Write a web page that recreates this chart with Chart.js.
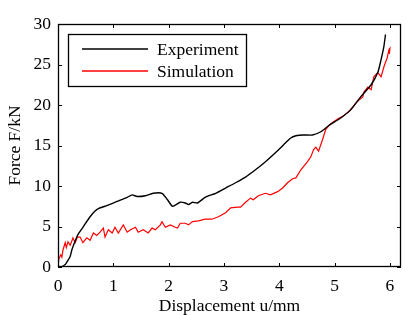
<!DOCTYPE html>
<html>
<head>
  <meta charset="utf-8">
  <title>Force vs displacement</title>
  <script src="https://cdn.jsdelivr.net/npm/chart.js@4.4.0/dist/chart.umd.min.js"></script>
  <style>
    body { margin: 0; background: #fff; }
  </style>
</head>
<body>
  <canvas id="myChart" width="415" height="315"></canvas>

  <script>
    // data
    const xTicks = [0, 1, 2, 3, 4, 5, 6];
    const yTicks = [0, 5, 10, 15, 20, 25, 30];

    const expLabel = 'Experiment';
    const expX = [0, 0.07, 0.13, 0.16, 0.22, 0.25, 0.31, 0.36, 0.45, 0.58, 0.67, 0.73, 0.89, 1.07, 1.25, 1.34, 1.43, 1.58, 1.72, 1.88, 1.98, 2.07, 2.21, 2.3, 2.36, 2.43, 2.52, 2.66, 2.85, 3.03, 3.21, 3.39, 3.57, 3.75, 3.93, 4.11, 4.2, 4.3, 4.44, 4.6, 4.75, 4.9, 5.11, 5.29, 5.47, 5.66, 5.78, 5.84, 5.89, 5.92];
    const expY = [0, 0.05, 0.3, 0.6, 1.3, 2.1, 3.2, 4.0, 4.9, 6.2, 6.9, 7.2, 7.6, 8.1, 8.6, 8.9, 8.7, 8.8, 9.1, 9.1, 8.3, 7.5, 8.0, 7.9, 7.7, 8.0, 7.9, 8.6, 9.1, 9.75, 10.4, 11.1, 12.0, 13.0, 14.1, 15.3, 15.9, 16.2, 16.3, 16.3, 16.7, 17.5, 18.4, 19.4, 21.0, 22.5, 24.0, 25.6, 27.2, 28.7];

    const simLabel = 'Simulation';
    const simX = [0, 0.02, 0.05, 0.07, 0.09, 0.13, 0.15, 0.18, 0.22, 0.25, 0.27, 0.31, 0.35, 0.4, 0.45, 0.52, 0.58, 0.64, 0.7, 0.76, 0.82, 0.85, 0.91, 0.98, 1.03, 1.09, 1.18, 1.25, 1.31, 1.4, 1.45, 1.54, 1.63, 1.7, 1.76, 1.85, 1.88, 1.94, 2.03, 2.12, 2.16, 2.21, 2.3, 2.36, 2.43, 2.54, 2.66, 2.78, 2.9, 3.03, 3.12, 3.24, 3.3, 3.39, 3.48, 3.53, 3.62, 3.75, 3.84, 3.97, 4.06, 4.15, 4.24, 4.3, 4.39, 4.51, 4.57, 4.62, 4.66, 4.71, 4.79, 4.84, 4.93, 5.06, 5.15, 5.24, 5.33, 5.38, 5.44, 5.51, 5.53, 5.6, 5.66, 5.71, 5.78, 5.84, 5.9, 5.95, 5.98, 6.0, 5.99];
    const simY = [0.3, 1.1, 1.5, 1.2, 2.1, 3.0, 2.4, 3.1, 2.7, 3.2, 3.6, 3.0, 3.7, 3.7, 3.0, 3.6, 3.3, 4.2, 3.9, 4.3, 4.8, 3.7, 4.6, 4.2, 4.9, 4.2, 5.2, 4.3, 4.6, 4.9, 4.3, 4.6, 4.2, 4.8, 4.6, 5.2, 5.6, 4.9, 5.2, 4.9, 4.8, 5.4, 5.4, 5.2, 5.6, 5.7, 5.9, 5.9, 6.2, 6.7, 7.3, 7.4, 7.4, 8.0, 8.5, 8.3, 8.8, 9.1, 8.9, 9.3, 9.75, 10.4, 10.9, 11.0, 12.0, 13.0, 13.6, 14.5, 14.8, 14.3, 15.9, 17.0, 17.7, 18.3, 18.6, 19.1, 19.75, 20.2, 20.6, 21.0, 21.6, 22.2, 21.9, 23.5, 24.0, 23.5, 24.9, 25.8, 26.8, 27.0, 26.3];

    const serif = '"Liberation Serif", "DejaVu Serif", serif';
    const fontSize = 17.5;

    function toPoints(xs, ys) {
      return xs.map((x, i) => ({ x: x, y: ys[i] }));
    }

    // frame with inward ticks on all four sides, plus a boxed legend
    const framePlugin = {
      id: 'frame',
      afterDraw(chart) {
        const ctx = chart.ctx;
        const a = chart.chartArea;
        const xs = chart.scales.x;
        const ys = chart.scales.y;
        const len = 4;
        ctx.save();
        ctx.strokeStyle = '#000';
        ctx.lineWidth = 1.3;
        ctx.strokeRect(a.left + 0.5, a.top + 0.5, a.right - a.left - 1, a.bottom - a.top - 1);
        ctx.lineWidth = 1;
        ctx.beginPath();
        xTicks.forEach(v => {
          const px = Math.round(xs.getPixelForValue(v)) + 0.5;
          ctx.moveTo(px, a.bottom); ctx.lineTo(px, a.bottom - len);
          ctx.moveTo(px, a.top); ctx.lineTo(px, a.top + len);
        });
        yTicks.forEach(v => {
          const py = Math.round(ys.getPixelForValue(v)) + 0.5;
          ctx.moveTo(a.left, py); ctx.lineTo(a.left + len, py);
          ctx.moveTo(a.right, py); ctx.lineTo(a.right - len, py);
        });
        ctx.stroke();

        // legend
        const bx = a.left + 10, by = a.top + 10, bw = 178, bh = 52;
        ctx.fillStyle = '#fff';
        ctx.fillRect(bx, by, bw, bh);
        ctx.lineWidth = 1.3;
        ctx.strokeRect(bx + 0.5, by + 0.5, bw, bh);
        ctx.font = fontSize + 'px ' + serif;
        ctx.textBaseline = 'middle';
        chart.data.datasets.forEach((ds, i) => {
          const ly = by + 15 + i * 22;
          ctx.strokeStyle = ds.borderColor;
          ctx.lineWidth = 1.4;
          ctx.beginPath();
          ctx.moveTo(bx + 14, ly); ctx.lineTo(bx + 80, ly);
          ctx.stroke();
          ctx.fillStyle = '#000';
          ctx.fillText(ds.label, bx + 89, ly + 1);
        });
        ctx.restore();
      }
    };

    const ctx = document.getElementById('myChart').getContext('2d');
    const myChart = new Chart(ctx, {
      type: 'line',
      data: {
        datasets: [{
          label: expLabel,
          data: toPoints(expX, expY),
          borderColor: '#000000',
          borderWidth: 1.4,
          pointRadius: 0,
          tension: 0.2
        }, {
          label: simLabel,
          data: toPoints(simX, simY),
          borderColor: '#ff0000',
          borderWidth: 1.2,
          pointRadius: 0,
          tension: 0
        }]
      },
      options: {
        responsive: false,
        animation: false,
        layout: { padding: { top: 24, right: 14, left: 0, bottom: 0 } },
        plugins: {
          legend: { display: false },
          tooltip: { enabled: false }
        },
        scales: {
          x: {
            type: 'linear',
            min: 0,
            max: 6.2,
            afterBuildTicks: s => { s.ticks = xTicks.map(v => ({ value: v })); },
            afterFit: s => { s.height = 48; },
            grid: { display: false, drawTicks: false },
            border: { display: false },
            ticks: { color: '#000', padding: 9, maxRotation: 0, font: { family: serif, size: fontSize } },
            title: {
              display: true,
              text: 'Displacement u/mm',
              color: '#000',
              padding: { top: 0, bottom: -2 },
              font: { family: serif, size: fontSize }
            }
          },
          y: {
            min: 0,
            max: 30,
            afterBuildTicks: s => { s.ticks = yTicks.map(v => ({ value: v })); },
            afterFit: s => { s.width = 58; },
            grid: { display: false, drawTicks: false },
            border: { display: false },
            ticks: { color: '#000', padding: 7, font: { family: serif, size: fontSize } },
            title: {
              display: true,
              text: 'Force F/kN',
              color: '#000',
              padding: { top: 5, bottom: 0 },
              font: { family: serif, size: fontSize }
            }
          }
        }
      },
      plugins: [framePlugin]
    });
  </script>
</body>
</html>
